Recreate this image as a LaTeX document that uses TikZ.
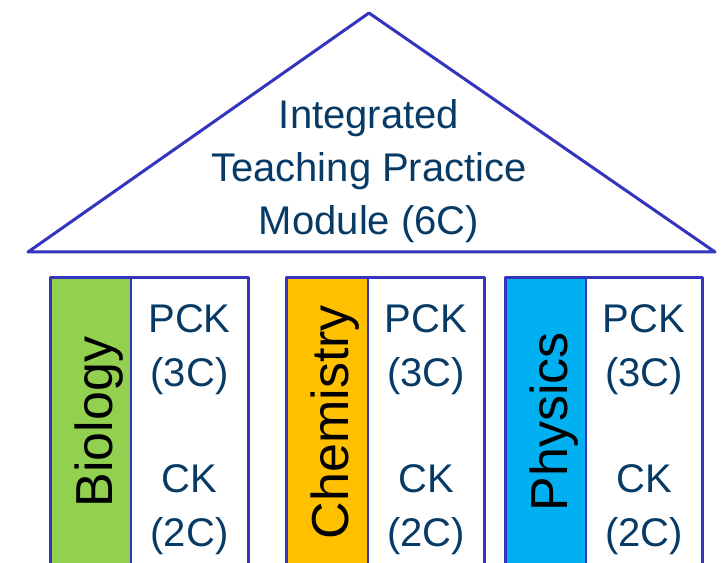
\documentclass[tikz,border=0pt]{standalone}
\usepackage{fontspec}
\setmainfont{Liberation Sans}
\definecolor{edge}{HTML}{3434BE}
\definecolor{ink}{HTML}{073B66}
\definecolor{bio}{HTML}{92D050}
\definecolor{chem}{HTML}{FFC000}
\definecolor{phys}{HTML}{00B0F0}
\begin{document}
\begin{tikzpicture}[x=0.75pt,y=-0.75pt,
  outline/.style={draw=edge,line width=2.25pt},
  divider/.style={draw=edge,line width=1.6pt},
  title/.style={text=ink,align=center,inner sep=0pt,font=\fontsize{30}{39.75}\selectfont},
  credit/.style={text=ink,align=center,inner sep=0pt,font=\fontsize{30}{40.5}\selectfont},
  subject/.style={text=black,inner sep=0pt,rotate=90,anchor=base,font=\fontsize{39}{46}\selectfont}]
\useasboundingbox (0,0) rectangle (725,563);
\clip (0,0) rectangle (725,563);
% roof
\draw[outline,fill=white,line join=round] (28,252) -- (369,13) -- (715,252) -- cycle;
\node[title] (roof) at (369,170.7) {Integrated\\Teaching Practice\\Module (6C)};
% pillars
\foreach \l/\d/\r/\c/\t/\n in {50/131/248/bio/Biology/b,286/368/484/chem/Chemistry/c,505/586/702/phys/Physics/p}{
  \fill[\c] (\l,277) rectangle (\d,575);
  \draw[divider] (\d,277) -- (\d,575);
  \draw[outline,line join=round] (\l,575) -- (\l,277) -- (\r,277) -- (\r,575);
  \node[subject] (lab-\n) at ({\l+62},422) {\t};
  \node[credit] (pck-\n) at ({(\d+\r)/2},350) {PCK\\(3C)};
  \node[credit] (ck-\n) at ({(\d+\r)/2},510) {CK\\(2C)};
}
\end{tikzpicture}
\end{document}
